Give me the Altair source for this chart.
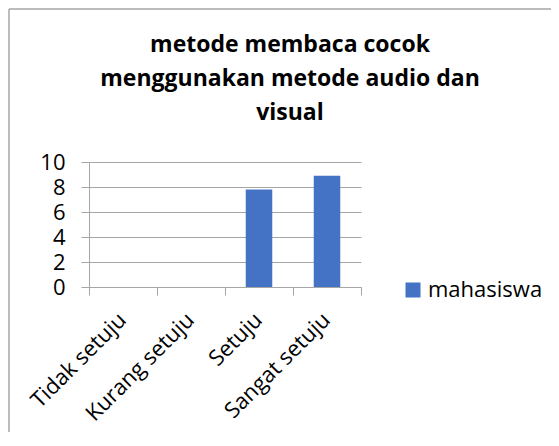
import altair as alt
import pandas as pd

categories = ["Tidak setuju", "Kurang setuju", "Setuju", "Sangat setuju"]
values = [0, 0, 7.8, 8.9]
series_name = "mahasiswa"
y_ticks = [0, 2, 4, 6, 8, 10]
title_lines = ["metode membaca cocok", "menggunakan metode audio dan", "visual"]

df = pd.DataFrame({"kategori": categories, "nilai": values, "seri": [series_name] * len(categories)})

FONT = "Open Sans"
GRID = "#A6A6A6"

bars = alt.Chart(df).mark_bar(width=alt.RelativeBandSize(0.39)).encode(
    x=alt.X(
        "kategori:N",
        sort=categories,
        title=None,
        scale=alt.Scale(paddingInner=0, paddingOuter=0),
        axis=alt.Axis(
            labelAngle=-45,
            labelFontSize=22,
            labelFont=FONT,
            labelColor="#000000",
            tickBand="extent",
            tickSize=8,
            tickColor=GRID,
            domainColor=GRID,
            labelPadding=14,
            labelOffset=-8,
            labelOverlap=False,
            grid=False,
        ),
    ),
    y=alt.Y(
        "nilai:Q",
        title=None,
        scale=alt.Scale(domain=[0, 10], nice=False),
        axis=alt.Axis(
            values=y_ticks,
            labelFontSize=22,
            labelFont=FONT,
            labelColor="#000000",
            tickSize=8,
            tickColor=GRID,
            domainColor=GRID,
            gridColor=GRID,
            labelPadding=16,
        ),
    ),
    color=alt.Color(
        "seri:N",
        scale=alt.Scale(range=["#4472C4"]),
        legend=alt.Legend(
            title=None,
            orient="none",
            legendX=313,
            legendY=117,
            symbolType="square",
            symbolSize=225,
            symbolStrokeWidth=0,
            labelFontSize=22,
            labelFont=FONT,
            labelColor="#000000",
            padding=0,
            labelOffset=4,
            labelLimit=200,
        ),
    ),
)

frame_df = pd.DataFrame({"a": [0]})
border_left = alt.Chart(frame_df).mark_rule(stroke=GRID, strokeWidth=1.5).encode(
    x=alt.value(-80), y=alt.value(-153), y2=alt.value(300)
)
border_top = alt.Chart(frame_df).mark_rule(stroke=GRID, strokeWidth=1.5).encode(
    x=alt.value(-80), x2=alt.value(480), y=alt.value(-153)
)

chart = alt.layer(border_left, border_top, bars).properties(
    width=272,
    height=125,
    autosize=alt.AutoSizeParams(type="none"),
    padding={"left": 81, "top": 154, "right": 190, "bottom": 145},
    title=alt.TitleParams(
        text=title_lines,
        fontSize=23,
        fontWeight="bold",
        font=FONT,
        color="#000000",
        anchor="middle",
        frame="group",
        dx=65,
        lineHeight=34,
        offset=-117,
    ),
).configure_view(stroke=None)

chart.save("out.html", embed_options={"renderer": "svg", "actions": False})
